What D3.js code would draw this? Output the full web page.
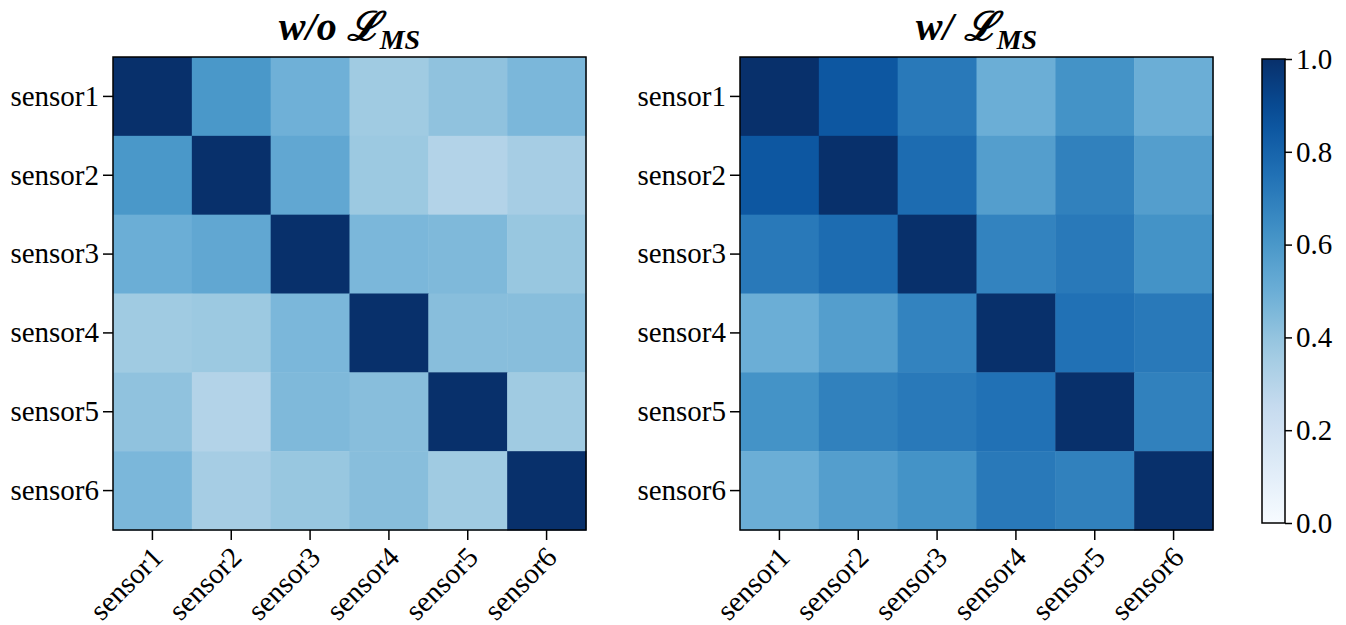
<!DOCTYPE html>
<meta charset="utf-8">
<style>
  body { margin: 0; background: #fff; }
  svg text { font-family: "Liberation Serif", "Times New Roman", serif; fill: #000; }
  .axis text { font-size: 29px; }
  .axis path, .axis line { stroke: #000; stroke-width: 1.5; }
</style>
<body>
<div id="chart"></div>
<script src="https://d3js.org/d3.v7.min.js"></script>
<script>
// sensors on both axes
const sensors = ["sensor1", "sensor2", "sensor3", "sensor4", "sensor5", "sensor6"];

// similarity without L_MS (rows = y, cols = x)
const withoutMS = [
  [1.00, 0.60, 0.49, 0.37, 0.41, 0.46],
  [0.60, 1.00, 0.53, 0.38, 0.31, 0.35],
  [0.50, 0.53, 1.00, 0.46, 0.45, 0.39],
  [0.37, 0.38, 0.46, 1.00, 0.43, 0.43],
  [0.41, 0.31, 0.45, 0.43, 1.00, 0.37],
  [0.46, 0.35, 0.39, 0.43, 0.37, 1.00]
];

// similarity with L_MS
const withMS = [
  [1.00, 0.85, 0.72, 0.50, 0.62, 0.50],
  [0.85, 1.00, 0.77, 0.57, 0.69, 0.57],
  [0.72, 0.77, 1.00, 0.68, 0.72, 0.62],
  [0.50, 0.57, 0.68, 1.00, 0.75, 0.72],
  [0.62, 0.69, 0.72, 0.75, 1.00, 0.69],
  [0.50, 0.57, 0.62, 0.72, 0.69, 1.00]
];

const cbarTicks = [0.0, 0.2, 0.4, 0.6, 0.8, 1.0];

// matplotlib "Blues"
const bluesStops = ["#f7fbff", "#deebf7", "#c6dbef", "#9ecae1", "#6baed6", "#4292c6", "#2171b5", "#08519c", "#08306b"];
const color = d3.scaleLinear()
  .domain(d3.range(9).map(i => i / 8))
  .range(bluesStops)
  .interpolate(d3.interpolateRgb)
  .clamp(true);

const W = 1346, H = 625;
const svg = d3.select("#chart").append("svg")
  .attr("width", W).attr("height", H);

const size = 473;
const panelTop = 57;

function drawPanel(x0, matrix, prefix) {
  const x = d3.scaleBand().domain(sensors).range([x0, x0 + size]);
  const y = d3.scaleBand().domain(sensors).range([panelTop, panelTop + size]);

  const cells = [];
  matrix.forEach((row, i) => row.forEach((v, j) => cells.push({ r: sensors[i], c: sensors[j], v })));

  svg.append("g").selectAll("rect")
    .data(cells)
    .join("rect")
    .attr("x", d => x(d.c))
    .attr("y", d => y(d.r))
    .attr("width", x.bandwidth() + 0.5)
    .attr("height", y.bandwidth() + 0.5)
    .attr("fill", d => color(d.v));

  // frame
  svg.append("rect")
    .attr("x", x0).attr("y", panelTop)
    .attr("width", size).attr("height", size)
    .attr("fill", "none").attr("stroke", "#000").attr("stroke-width", 1.5);

  // left axis
  const ga = svg.append("g").attr("class", "axis")
    .attr("transform", `translate(${x0},0)`)
    .call(d3.axisLeft(y).tickSize(10).tickPadding(4));
  ga.select(".domain").remove();

  // bottom axis, rotated labels
  const gb = svg.append("g").attr("class", "axis")
    .attr("transform", `translate(0,${panelTop + size})`)
    .call(d3.axisBottom(x).tickSize(10));
  gb.select(".domain").remove();
  gb.selectAll("text")
    .attr("text-anchor", "end")
    .attr("dy", null).attr("y", null)
    .attr("transform", "translate(12,29) rotate(-45)");

  // title
  const t = svg.append("text")
    .attr("x", x0 + size / 2).attr("y", 40)
    .attr("text-anchor", "middle")
    .style("font-size", "40px").style("font-weight", "bold").style("font-style", "italic");
  t.append("tspan").text(prefix + " ");
  t.append("tspan").text("\u2112").style("font-family", "'DejaVu Serif', serif").style("font-size", "40px");
  t.append("tspan").text("MS").attr("dy", 9).style("font-size", "28px");
}

drawPanel(113, withoutMS, "w/o");
drawPanel(740, withMS, "w/");

// colorbar
const cbX = 1262, cbW = 23, cbTop = 59, cbBottom = 523;
const defs = svg.append("defs");
const grad = defs.append("linearGradient").attr("id", "cbar")
  .attr("x1", 0).attr("y1", 1).attr("x2", 0).attr("y2", 0);
grad.selectAll("stop")
  .data(d3.range(0, 1.0001, 0.05))
  .join("stop")
  .attr("offset", d => d)
  .attr("stop-color", d => color(d));

svg.append("rect")
  .attr("x", cbX).attr("y", cbTop)
  .attr("width", cbW).attr("height", cbBottom - cbTop)
  .attr("fill", "url(#cbar)")
  .attr("stroke", "#000").attr("stroke-width", 1.5);

const cbScale = d3.scaleLinear().domain([0, 1]).range([cbBottom, cbTop]);
const gc = svg.append("g").attr("class", "axis")
  .attr("transform", `translate(${cbX + cbW},0)`)
  .call(d3.axisRight(cbScale).tickValues(cbarTicks).tickFormat(d3.format(".1f")).tickSize(7).tickPadding(4));
gc.select(".domain").remove();
</script>
</body>
